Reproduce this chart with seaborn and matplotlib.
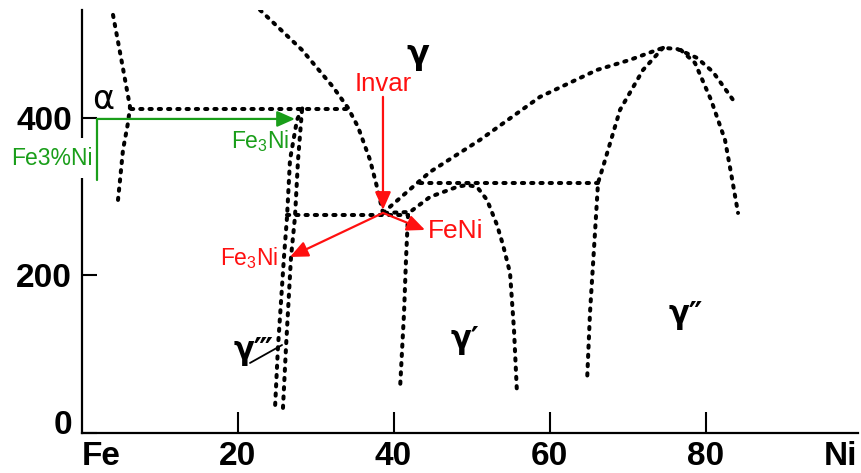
import matplotlib
matplotlib.use("Agg")
import matplotlib.pyplot as plt
import matplotlib.transforms as mtransforms
import pandas as pd
import seaborn as sns

sns.set_theme(style="white")
plt.rcParams['font.family'] = ['DejaVu Sans']
plt.rcParams['mathtext.fontset'] = 'custom'
plt.rcParams['mathtext.rm'] = 'Liberation Sans'
plt.rcParams['mathtext.it'] = 'Liberation Sans:italic'
plt.rcParams['mathtext.bf'] = 'Liberation Sans:bold'

# ---------------- data (composition in at.% Ni, temperature in deg C) ----------------
x_ticks = [20, 40, 60, 80]
x_tick_labels = ["20", "40", "60", "80"]
x_end_ticks = [0, 99.5]
x_end_labels = ["Fe", "Ni"]
y_ticks = [0, 200, 400]
y_tick_labels = ["0", "200", "400"]

alpha_x = [4.04, 5.19, 6.22, 5.96, 5.32, 4.94, 4.68]
alpha_t = [530.8, 469.8, 414.0, 393.7, 359.4, 321.3, 295.9]

eutectoid_x = [6.3, 34.2]
eutectoid_t = [411.4, 411.4]

gamma_x = [22.88, 28.27, 32.24, 34.17, 35.45, 36.99, 37.88, 38.65]
gamma_t = [537.1, 486.3, 439.4, 412.7, 388.6, 346.7, 312.4, 279.4]

fe3ni_left_x = [28.3, 27.63, 26.73, 26.35, 25.96, 25.19, 24.81]
fe3ni_left_t = [412.0, 397.5, 346.7, 274.3, 223.5, 109.2, 31.7]
fe3ni_right_x = [28.27, 27.76, 27.37, 26.86, 26.22, 25.83]
fe3ni_right_t = [410.2, 346.7, 274.3, 223.5, 109.2, 31.7]

invar_line_x = [26.35, 41.86]
invar_line_t = [276.8, 276.8]

gp_left_x = [41.86, 41.6, 41.35, 40.83]
gp_left_t = [276.8, 219.7, 152.4, 54.6]

upper_x = [38.65, 44.68, 51.09, 58.78, 66.09, 70.32, 73.78, 74.55, 76.35, 78.91, 80.96, 83.53]
upper_t = [279.4, 331.4, 372.1, 426.7, 460.9, 473.7, 486.3, 488.9, 487.6, 476.2, 458.4, 422.9]

gpp_left_x = [74.55, 71.99, 69.04, 66.86, 66.22, 65.83, 65.19, 64.81]
gpp_left_t = [488.9, 460.9, 410.2, 337.8, 317.5, 254.0, 152.4, 64.8]

gpp_right_x = [76.83, 78.65, 80.71, 82.5, 83.27, 84.17]
gpp_right_t = [486.3, 469.8, 422.9, 372.1, 330.2, 279.4]

feni_line_x = [43.4, 66.22]
feni_line_t = [317.5, 317.5]

gp_dome_x = [38.91, 42.12, 44.68, 48.14, 49.42, 50.71, 51.99, 53.27, 54.04, 54.94, 55.45, 55.83]
gp_dome_t = [279.4, 280.6, 299.7, 312.4, 314.9, 312.4, 295.9, 264.1, 238.7, 203.2, 130.8, 50.8]

gppp_ptr_x = [21.6, 25.71]
gppp_ptr_t = [88.9, 111.7]

phase_labels = ["α", "γ", "γ′", "γ″", "γ‴"]
phase_x = [2.76, 43.1, 49.2, 77.5, 22.1]
phase_t = [422.9, 480.0, 118.0, 148.6, 102.9]

red_texts = ["Invar", "FeNi", "Fe$_3$Ni"]
red_text_x = [38.65, 44.4, 25.2]
red_text_t = [443.2, 256.5, 222.0]
red_arrow_from_x = [38.65, 38.65, 38.65]
red_arrow_from_t = [426.7, 279.4, 279.4]
red_arrow_to_x = [38.65, 44.04, 26.73]
red_arrow_to_t = [283.2, 257.8, 223.5]

green_x0, green_t0, green_t1 = 1.99, 398.7, 321.3
green_arrow_end_x = 27.37
green_texts = ["Fe3%Ni", "Fe$_3$Ni"]
green_text_x = [-3.8, 22.88]
green_text_t = [349.0, 370.8]

# ---------------- figure ----------------
fig = plt.figure(figsize=(8.61, 4.73), dpi=100)
ax = fig.add_axes([81.5 / 861, 40 / 473, (857.6 - 81.5) / 861, 423 / 473])
ax.set_xlim(0, 99.5)
ax.set_ylim(0, 537)

dot_kw = dict(color="black", linewidth=2.9, linestyle=(0, (0.55, 1.75)),
              dash_capstyle="round", sort=False, estimator=None, legend=False, ax=ax)

dotted = [
    (alpha_x, alpha_t), (eutectoid_x, eutectoid_t), (gamma_x, gamma_t),
    (fe3ni_left_x, fe3ni_left_t), (fe3ni_right_x, fe3ni_right_t),
    (invar_line_x, invar_line_t), (gp_left_x, gp_left_t), (upper_x, upper_t),
    (gpp_left_x, gpp_left_t), (gpp_right_x, gpp_right_t),
    (feni_line_x, feni_line_t), (gp_dome_x, gp_dome_t),
]
for xs, ts in dotted:
    df = pd.DataFrame({"x": xs, "t": ts})
    sns.lineplot(data=df, x="x", y="t", **dot_kw)

sns.lineplot(x=gppp_ptr_x, y=gppp_ptr_t, sort=False, estimator=None, color="black",
             linewidth=1.3, ax=ax)

# phase labels
phase_sizes = [24, 24, 22, 22, 22]
phase_weights = ["normal", "bold", "bold", "bold", "bold"]
for lab, px, pt, fs, fw in zip(phase_labels, phase_x, phase_t, phase_sizes, phase_weights):
    ax.text(px, pt, lab, fontsize=fs, fontweight=fw, ha="center", va="center",
            color="black", family=["DejaVu Sans"])

# red annotations
red = "#ff1010"
ax.text(red_text_x[0], red_text_t[0], red_texts[0], color=red, fontsize=18.5,
        ha="center", va="center", family=["Liberation Sans"])
ax.text(red_text_x[1], red_text_t[1], red_texts[1], color=red, fontsize=19,
        ha="left", va="center", family=["Liberation Sans"])
ax.text(red_text_x[2], red_text_t[2], red_texts[2], color=red, fontsize=16.5,
        ha="right", va="center", family=["Liberation Sans"])
for fx, ft, tx, tt in zip(red_arrow_from_x, red_arrow_from_t, red_arrow_to_x, red_arrow_to_t):
    ax.annotate("", xy=(tx, tt), xytext=(fx, ft),
                arrowprops=dict(arrowstyle="-|>,head_length=0.9,head_width=0.4",
                                color=red, lw=1.6, shrinkA=0, shrinkB=0), zorder=5)

# green annotations
green = "#1a9e1a"
ax.plot([green_x0, green_x0], [green_t0, green_t1], color=green, lw=1.6, zorder=6,
        clip_on=False)
ax.annotate("", xy=(green_arrow_end_x, green_t0), xytext=(green_x0, green_t0),
            arrowprops=dict(arrowstyle="-|>,head_length=0.9,head_width=0.4",
                            color=green, lw=1.6, shrinkA=0, shrinkB=0), zorder=6)
ax.text(green_text_x[0], green_text_t[0], green_texts[0], color=green, fontsize=16.5,
        ha="center", va="center", family=["Liberation Sans"], clip_on=False, zorder=5,
        bbox=dict(facecolor="white", edgecolor="none", pad=6))
ax.text(green_text_x[1], green_text_t[1], green_texts[1], color=green, fontsize=16.5,
        ha="center", va="center", family=["Liberation Sans"])

# axes styling
for s in ["top", "right"]:
    ax.spines[s].set_visible(False)
for s in ["left", "bottom"]:
    ax.spines[s].set_color("black")
    ax.spines[s].set_linewidth(1.6)

tick_font = dict(family=["Liberation Sans"], weight="bold", size=24)
ax.set_xticks(x_ticks)
ax.set_xticklabels(x_tick_labels, fontdict=tick_font)
ax.set_xticks(x_end_ticks, minor=True)
ax.set_xticklabels(x_end_labels, minor=True, fontdict=tick_font)
ax.set_yticks(y_ticks)
ax.set_yticklabels(y_tick_labels, fontdict=tick_font)
ax.tick_params(axis="x", which="major", direction="in", length=15, width=1.5,
               color="black", pad=6, labelcolor="black")
ax.tick_params(axis="x", which="minor", direction="in", length=0, pad=6,
               labelcolor="black")
ax.tick_params(axis="y", which="major", direction="in", length=11, width=1.5,
               color="black", pad=7, labelcolor="black")
ax.tick_params(left=True, bottom=True)
ml = ax.get_xticklabels(minor=True)
ml[0].set_ha("left")
ml[-1].set_ha("right")
ylab = ax.get_yticklabels()
off = mtransforms.ScaledTranslation(0, 11 / 100, fig.dpi_scale_trans)
ylab[0].set_transform(ylab[0].get_transform() + off)

ax.set_xlabel("")
ax.set_ylabel("")
ax.grid(False)
ax.set_facecolor("white")
fig.patch.set_facecolor("white")

fig.savefig("out.png", dpi=100, facecolor="white")
